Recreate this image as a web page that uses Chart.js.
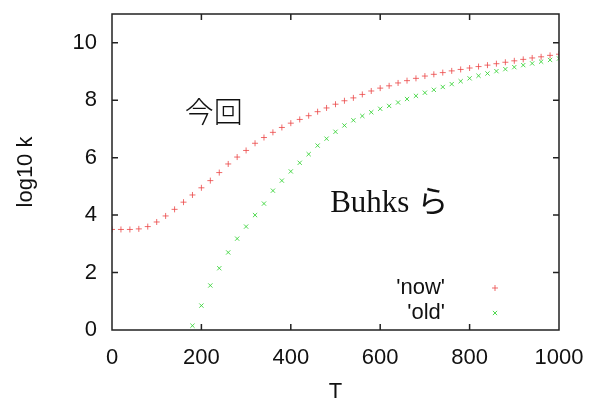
<!DOCTYPE html>
<html>
<head>
<meta charset="utf-8">
<script src="https://cdn.jsdelivr.net/npm/chart.js@4.4.1/dist/chart.umd.min.js"></script>
<style>
    html, body { margin: 0; padding: 0; background: #fff; }
    #wrap { width: 589px; height: 401px; }
</style>
</head>
<body>
<div id="wrap"><canvas id="chart"></canvas></div>
<script>
// T values and log10 k for the two data files
const tNow = [0, 20, 40, 60, 80, 100, 120, 140, 160, 180, 200, 220, 240, 260, 280, 300, 320, 340, 360, 380,
    400, 420, 440, 460, 480, 500, 520, 540, 560, 580, 600, 620, 640, 660, 680, 700, 720, 740, 760, 780,
    800, 820, 840, 860, 880, 900, 920, 940, 960, 980, 1000];
const logkNow = [3.50, 3.50, 3.50, 3.52, 3.60, 3.76, 3.97, 4.20, 4.45, 4.70, 4.95, 5.20, 5.48, 5.78, 6.02, 6.25, 6.50, 6.70, 6.88, 7.05,
    7.20, 7.33, 7.46, 7.60, 7.73, 7.86, 7.98, 8.08, 8.20, 8.32, 8.42, 8.50, 8.60, 8.68, 8.76, 8.84, 8.90, 8.96, 9.02, 9.07,
    9.12, 9.17, 9.22, 9.27, 9.32, 9.37, 9.42, 9.47, 9.51, 9.56, 9.60];

const tOld = [180, 200, 220, 240, 260, 280, 300, 320, 340, 360, 380,
    400, 420, 440, 460, 480, 500, 520, 540, 560, 580, 600, 620, 640, 660, 680, 700, 720, 740, 760, 780,
    800, 820, 840, 860, 880, 900, 920, 940, 960, 980, 1000];
const logkOld = [0.15, 0.85, 1.55, 2.15, 2.70, 3.18, 3.60, 4.00, 4.40, 4.85, 5.20,
    5.52, 5.82, 6.12, 6.42, 6.66, 6.90, 7.12, 7.30, 7.45, 7.58, 7.70, 7.80, 7.92, 8.04, 8.15, 8.26, 8.36, 8.46, 8.56, 8.66,
    8.76, 8.85, 8.93, 9.01, 9.08, 9.15, 9.22, 9.28, 9.34, 9.40, 9.45];

const xTicks = [0, 200, 400, 600, 800, 1000];
const yTicks = [0, 2, 4, 6, 8, 10];
const seriesLabels = ["'now'", "'old'"];
const noteLabels = ['今回', 'Buhks ら'];

const tickFont = { family: '"Liberation Sans", Arial, sans-serif', size: 22 };
const red = 'rgba(235, 70, 70, 0.8)';
const green = 'rgba(50, 210, 50, 0.85)';

const toPoints = (xs, ys) => xs.map((t, i) => ({ x: t, y: ys[i] }));

// gnuplot style box with inward ticks, key and the two text notes
const gnuplotFrame = {
    id: 'gnuplotFrame',
    afterDraw(chart) {
        const { ctx, chartArea: a } = chart;
        const x = chart.scales.x, y = chart.scales.y;
        ctx.save();
        ctx.setLineDash([]);
        ctx.globalAlpha = 1;
        ctx.strokeStyle = '#222';
        ctx.lineWidth = 1.5;
        ctx.beginPath();
        ctx.rect(a.left, a.top, a.right - a.left, a.bottom - a.top);
        xTicks.forEach(v => {
            const px = x.getPixelForValue(v);
            ctx.moveTo(px, a.bottom); ctx.lineTo(px, a.bottom - 6);
            ctx.moveTo(px, a.top); ctx.lineTo(px, a.top + 6);
        });
        yTicks.forEach(v => {
            const py = y.getPixelForValue(v);
            ctx.moveTo(a.left, py); ctx.lineTo(a.left + 6, py);
            ctx.moveTo(a.right, py); ctx.lineTo(a.right - 6, py);
        });
        ctx.stroke();

        // key
        ctx.fillStyle = '#111';
        ctx.font = `${tickFont.size}px ${tickFont.family}`;
        ctx.textAlign = 'right';
        ctx.textBaseline = 'middle';
        chart.data.datasets.forEach((ds, i) => {
            const ky = a.bottom - 42 + i * 25;
            ctx.fillText(ds.label, a.right - 114, ky);
            ctx.strokeStyle = ds.borderColor;
            ctx.lineWidth = 1;
            Chart.helpers.drawPoint(ctx, { pointStyle: ds.pointStyle, radius: 3, rotation: 0, borderWidth: 1 }, a.right - 64, ky);
        });

        // notes
        ctx.textAlign = 'left';
        ctx.textBaseline = 'alphabetic';
        ctx.font = '300 29px "Noto Sans CJK JP", sans-serif';
        ctx.fillText(noteLabels[0], x.getPixelForValue(163), y.getPixelForValue(7.2));
        ctx.font = '31px "Liberation Serif", "Noto Sans CJK JP", serif';
        ctx.fillText(noteLabels[1], x.getPixelForValue(488), y.getPixelForValue(4.1));
        ctx.restore();
    }
};

new Chart(document.getElementById('chart'), {
    type: 'scatter',
    data: {
        datasets: [{
            label: seriesLabels[0],
            data: toPoints(tNow, logkNow),
            pointStyle: 'cross',
            pointRadius: 3,
            borderWidth: 1,
            borderColor: red,
            backgroundColor: red
        }, {
            label: seriesLabels[1],
            data: toPoints(tOld, logkOld),
            pointStyle: 'crossRot',
            pointRadius: 3,
            borderWidth: 1,
            borderColor: green,
            backgroundColor: green
        }]
    },
    options: {
        responsive: true,
        maintainAspectRatio: false,
        animation: false,
        layout: { padding: { top: 14, right: 30, left: 0, bottom: 0 } },
        plugins: {
            legend: { display: false },
            tooltip: { enabled: false }
        },
        scales: {
            x: {
                type: 'linear',
                min: 0,
                max: 1000,
                afterBuildTicks: s => { s.ticks = xTicks.map(v => ({ value: v })); },
                afterFit: s => { s.height = 71; s.paddingLeft = 0; s.paddingRight = 0; },
                grid: { display: false, drawTicks: false },
                border: { display: false },
                ticks: { color: '#111', font: tickFont, padding: 15, maxRotation: 0, callback: v => String(v) },
                title: { display: true, text: 'T', color: '#111', font: tickFont, padding: { top: 0, bottom: -4 } }
            },
            y: {
                type: 'linear',
                min: 0,
                max: 11,
                afterBuildTicks: s => { s.ticks = yTicks.map(v => ({ value: v })); },
                afterFit: s => { s.width = 112; s.paddingTop = 0; s.paddingBottom = 0; },
                grid: { display: false, drawTicks: false },
                border: { display: false },
                ticks: { color: '#111', font: tickFont, padding: 15 },
                title: { display: true, text: 'log10 k', color: '#111', font: tickFont, padding: { top: 13, bottom: 0 } }
            }
        }
    },
    plugins: [gnuplotFrame]
});
</script>
</body>
</html>
